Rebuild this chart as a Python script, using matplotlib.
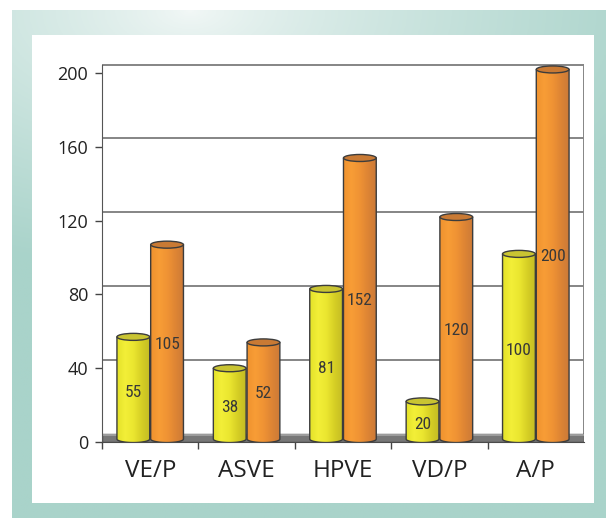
import matplotlib
matplotlib.use('Agg')
import matplotlib.pyplot as plt
import numpy as np
from matplotlib.patches import Rectangle, Ellipse, PathPatch
from matplotlib.path import Path
from matplotlib import font_manager as fm
from matplotlib.colors import LinearSegmentedColormap, to_rgb

categories = ['VE/P', 'ASVE', 'HPVE', 'VD/P', 'A/P']
series_yellow = [55, 38, 81, 20, 100]
series_orange = [105, 52, 152, 120, 200]
yticks = [0, 40, 80, 120, 160, 200]

names = {f.name for f in fm.fontManager.ttflist}
main_font = 'Open Sans' if 'Open Sans' in names else 'DejaVu Sans'
narrow_font = main_font
for cand in ['Liberation Sans Narrow', 'DejaVu Sans Condensed', 'Roboto Condensed', 'Open Sans Condensed']:
    if cand in names:
        narrow_font = cand
        break

W, H = 606, 518
fig = plt.figure(figsize=(W / 100, H / 100), dpi=100)

# ---- background frame ----
bg = fig.add_axes([0, 0, 1, 1])
bg.set_xlim(0, W)
bg.set_ylim(H, 0)
bg.axis('off')
gx = np.linspace(12, W, 300)
gy = np.linspace(10, H, 260)
GX, GY = np.meshgrid(gx, gy)
dist = np.sqrt(((GX - 190) * 0.85) ** 2 + ((GY - 10) * 1.6) ** 2)
t = np.clip(dist / 420, 0, 1) ** 0.75
light = np.array(to_rgb('#f3f8f7'))
teal = np.array(to_rgb('#a9d3ca'))
img = light[None, None, :] * (1 - t[..., None]) + teal[None, None, :] * t[..., None]
bg.imshow(img, extent=[12, W, H, 10], aspect='auto', zorder=0)
bg.add_patch(Rectangle((32, 35), 562, 468, fc='white', ec='none', zorder=1))
bg.set_xlim(0, W)
bg.set_ylim(H, 0)

# ---- main axes ----
left_px, right_px, top_px, bot_px = 102, 584, 63, 442
ax = fig.add_axes([left_px / W, (H - bot_px) / H, (right_px - left_px) / W, (bot_px - top_px) / H])
ax.patch.set_alpha(0)
YMAX = 205.5
XMIN, XMAX = -0.5, 4.5
DEPTH = 4.6

# back-wall gridlines
for v in yticks[1:]:
    ax.plot([XMIN, XMAX], [v + DEPTH] * 2, color='#858585', lw=1.4, zorder=1, solid_capstyle='butt')
ax.plot([XMAX, XMAX], [DEPTH, 200 + DEPTH], color='#858585', lw=1.4, zorder=1)

# floor
ax.add_patch(Rectangle((XMIN, 0), XMAX - XMIN, DEPTH, fc='#777777', ec='#4a4a4a', lw=1.0, zorder=2))
ax.add_patch(Rectangle((XMIN, DEPTH - 1.3), XMAX - XMIN, 1.1, fc='#9c9c9c', ec='none', zorder=2))

ycmap = LinearSegmentedColormap.from_list('y', ['#e4e22a', '#f3ef38', '#ebe630', '#d6cf25', '#c4bc24'])
ocmap = LinearSegmentedColormap.from_list('o', ['#ef922f', '#f89d36', '#f09334', '#de8534', '#cc7a38'])
grad = np.tile(np.linspace(0, 1, 100), (2, 1))


def cylinder(xc, value, w, cmap, topc):
    x0, x1 = xc - w / 2, xc + w / 2
    top = value + 2.0
    base = 1.6
    ry = 1.9
    th = np.linspace(np.pi, 2 * np.pi, 40)
    bx = xc + w / 2 * np.cos(th)
    by = base + ry * np.sin(th)
    verts = [(x0, top)] + list(zip(bx, by)) + [(x1, top), (x0, top)]
    codes = [Path.MOVETO] + [Path.LINETO] * (len(verts) - 2) + [Path.CLOSEPOLY]
    patch = PathPatch(Path(verts, codes), fc='none', ec='#3c3c3c', lw=1.0, zorder=4)
    im = ax.imshow(grad, extent=[x0, x1, base - ry, top], aspect='auto', cmap=cmap, zorder=3,
                   interpolation='bilinear')
    ax.add_patch(patch)
    im.set_clip_path(patch)
    ax.add_patch(Ellipse((xc, top), w, 2 * ry, fc=topc, ec='#3c3c3c', lw=1.0, zorder=5))


bw = 0.34
off = 0.175
for i, (yv, ov) in enumerate(zip(series_yellow, series_orange)):
    cylinder(i - off, yv, bw, ycmap, '#c9c432')
    cylinder(i + off, ov, bw, ocmap, '#c97a34')
    ax.text(i - off, yv / 2 - 0.5, str(yv), ha='center', va='center', fontsize=12.5,
            family=narrow_font, color='#383838', zorder=6)
    ax.text(i + off, ov / 2 + 0.5, str(ov), ha='center', va='center', fontsize=12.5,
            family=narrow_font, color='#383838', zorder=6)

ax.set_xlim(XMIN, XMAX)
ax.set_ylim(0, YMAX)
ax.set_yticks(yticks)
ax.set_yticklabels([str(v) for v in yticks], fontsize=13, family=main_font, color='#222222')
ax.set_xticks([-0.5, 0.5, 1.5, 2.5, 3.5])
ax.set_xticklabels([])
ax.tick_params(axis='y', direction='out', length=5, width=1, color='#444444', pad=5)
ax.tick_params(axis='x', direction='out', length=5, width=1, color='#444444')
for s in ['top', 'right']:
    ax.spines[s].set_visible(False)
ax.spines['left'].set_color('#555555')
ax.spines['bottom'].set_color('#4a4a4a')
ax.spines['left'].set_bounds(0, 200 + DEPTH)
for i, c in enumerate(categories):
    ax.annotate(c, xy=(i, 0), xycoords=('data', 'axes fraction'), xytext=(0, -21), textcoords='offset points',
                ha='center', va='center', fontsize=17.5, family=main_font, color='#222222')

fig.savefig('out.png', dpi=100)
